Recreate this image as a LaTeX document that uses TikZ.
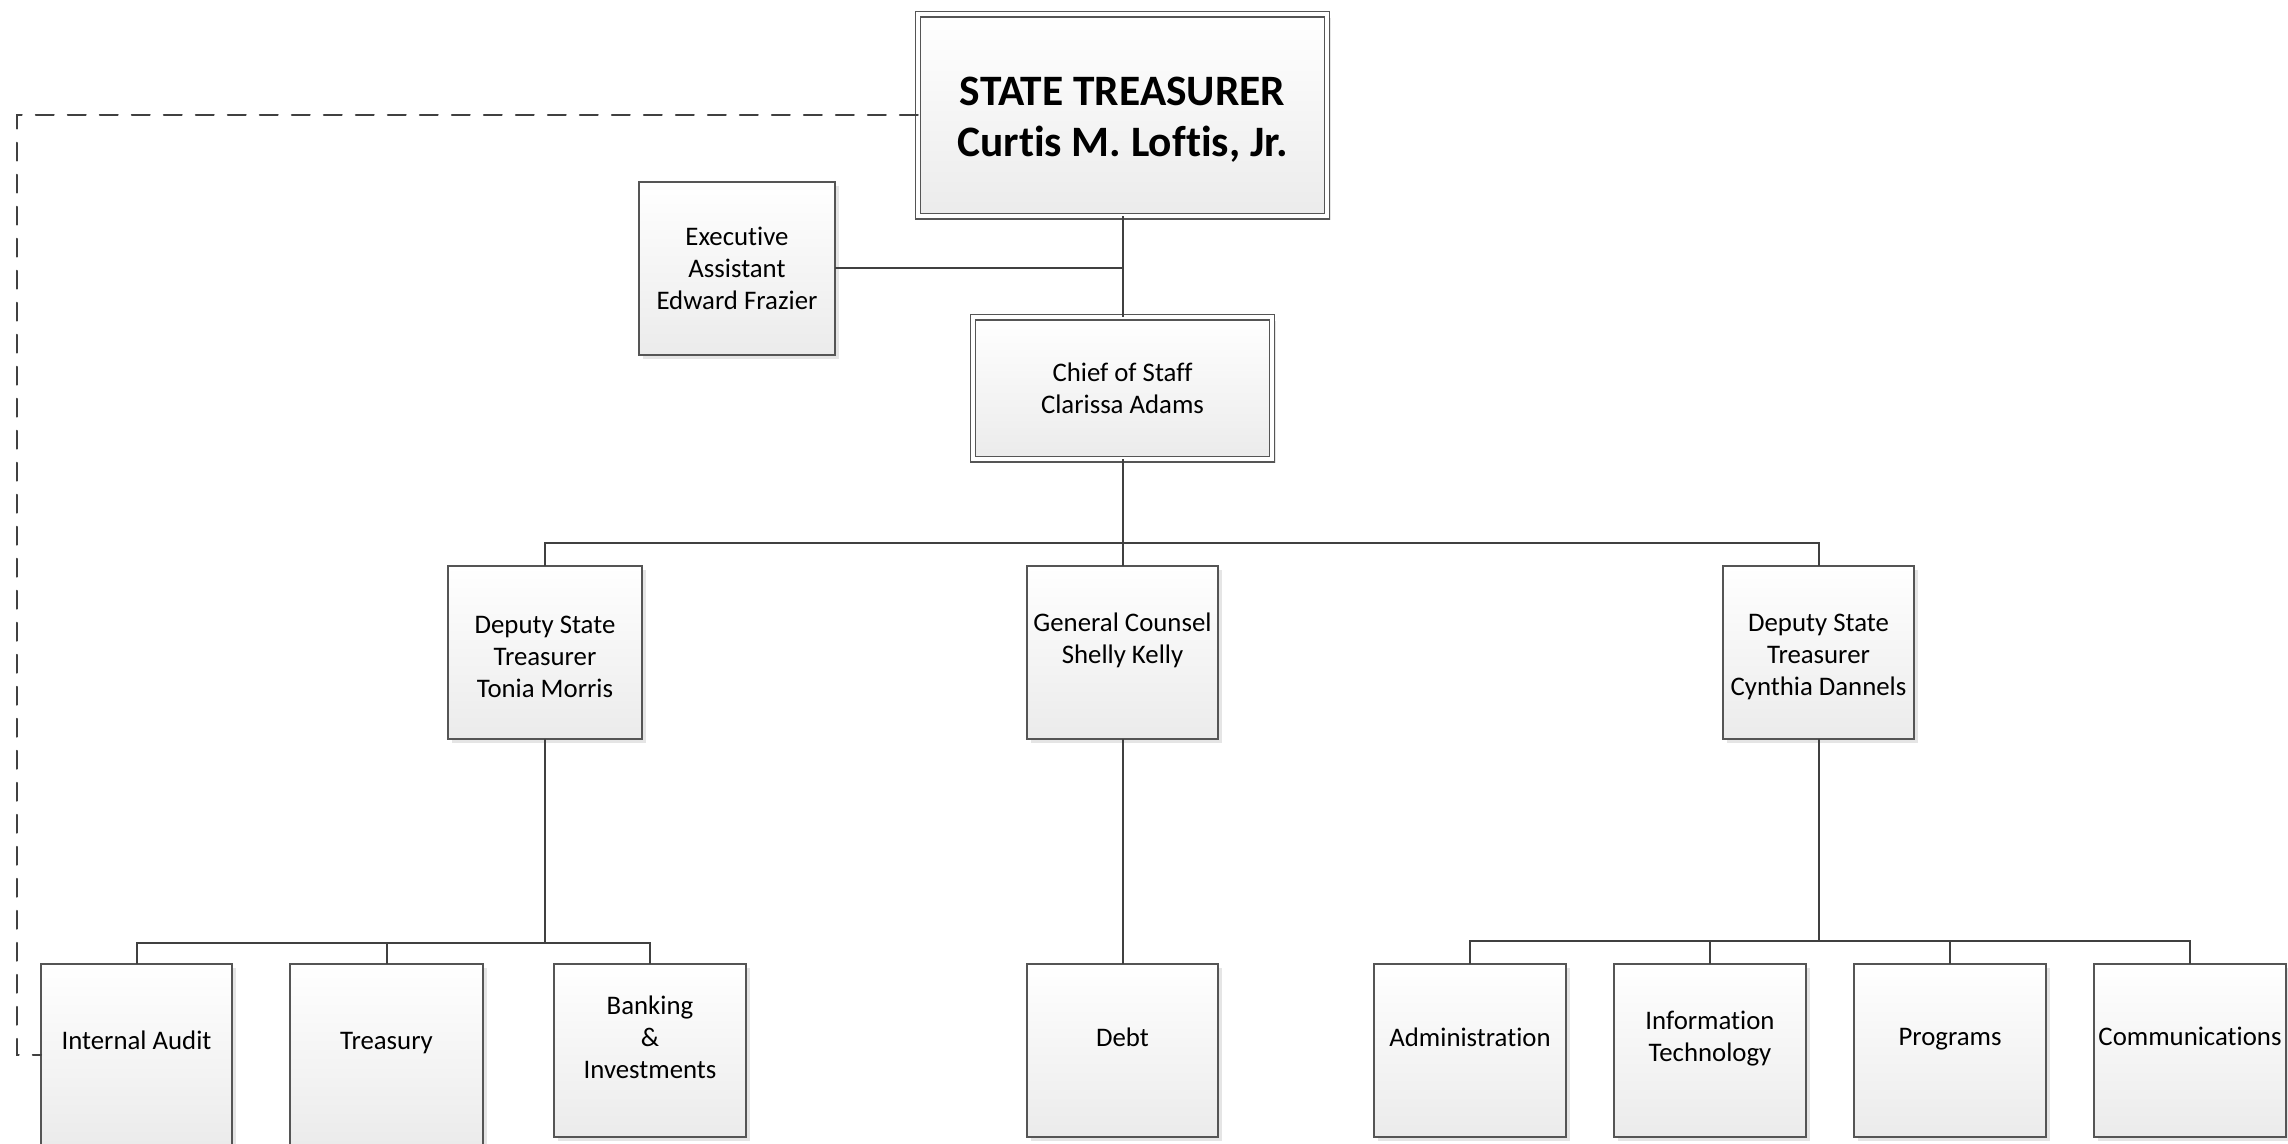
\documentclass[tikz,border=0pt]{standalone}
\usepackage{fontspec}
\setmainfont{Carlito}[Ligatures=NoCommon]
\usetikzlibrary{shadows,calc}
\definecolor{connc}{HTML}{404040}
\definecolor{bord}{HTML}{555555}
\definecolor{shadebot}{HTML}{EBEBEB}
\begin{document}
\begin{tikzpicture}[x=0.5pt,y=-0.5pt,
  box/.style={draw=bord, line width=0.6pt, top color=white, bottom color=shadebot,
    drop shadow={shadow xshift=2pt, shadow yshift=-2pt, fill=black, opacity=0.1},
    inner sep=0pt, outer sep=0pt, align=center, text=black,
    font=\fontsize{13.4}{16}\selectfont},
  dbox/.style={box, double=white, double distance=2pt},
  txt/.style={inner sep=0pt, align=center, text=black, font=\fontsize{13.4}{16}\selectfont},
  link/.style={draw=connc, line width=1pt},
  dashlink/.style={draw=connc, line width=1pt, dash pattern=on 9pt off 7pt, line cap=round}
]
\useasboundingbox (0,0) rectangle (2288,1144);
\fill[white] (0,0) rectangle (2288,1144);
\clip (0,0) rectangle (2288,1144);

% top levels
\node[dbox, minimum width=204.75pt, minimum height=101pt] (top) at (1122.5,115.5) {};
\node[txt, font=\bfseries\fontsize{21.7}{25.5}\selectfont] (topt) at (1122.5,120)
  {STATE TREASURER\\Curtis M. Loftis, Jr.};
\node[box, minimum width=98pt, minimum height=86.5pt] (exec) at (737,268.5)
  {Executive\\Assistant\\Edward Frazier};
\node[dbox, minimum width=149.25pt, minimum height=71pt] (chief) at (1122.5,388.5)
  {Chief of Staff\\Clarissa Adams};

% second row
\node[box, minimum width=97pt, minimum height=86.5pt] (dep1) at (545,652.5) {};
\node[txt] (dep1t) at (545,656.8) {Deputy State\\Treasurer\\Tonia Morris};
\node[box, minimum width=95.5pt, minimum height=86.5pt] (gc) at (1122.5,652.5) {};
\node[txt] (gct) at (1122.5,640.7) {General Counsel\\Shelly Kelly};
\node[box, minimum width=95.5pt, minimum height=86.5pt] (dep2) at (1818.5,652.5) {};
\node[txt] (dep2t) at (1818.5,656.8) {Deputy State\\Treasurer\\Cynthia Dannels};

% third row
\node[box, minimum width=95.5pt, minimum height=90.5pt] (ia) at (136.5,1054.5) {};
\node[txt] (iat) at (136.5,1040.4) {Internal Audit};
\node[box, minimum width=96.5pt, minimum height=90.5pt] (tr) at (386.5,1054.5) {};
\node[txt] (trt) at (386.5,1043.4) {Treasury};
\node[box, minimum width=96pt, minimum height=86.5pt] (bk) at (650,1050.5) {};
\node[txt] (bkt) at (650,1037.5) {Banking\\\&\\Investments};
\node[box, minimum width=95.5pt, minimum height=86.5pt] (debt) at (1122.5,1050.5) {};
\node[txt] (debtt) at (1122.5,1037.5) {Debt};
\node[box, minimum width=96pt, minimum height=86.5pt] (admin) at (1470,1050.5) {};
\node[txt] (admint) at (1470,1037.5) {Administration};
\node[box, minimum width=96pt, minimum height=86.5pt] (it) at (1710,1050.5) {};
\node[txt] (itt) at (1710,1039) {Information\\Technology};
\node[box, minimum width=96pt, minimum height=86.5pt] (prog) at (1950,1050.5) {};
\node[txt] (progt) at (1950,1039) {Programs};
\node[box, minimum width=96pt, minimum height=86.5pt] (comms) at (2190,1050.5) {};
\node[txt] (commst) at (2190,1036.5) {Communications};

% connectors
\coordinate (b1) at (1122.5,543);
\coordinate (b2) at (545,943);
\coordinate (b3) at (1818.5,941);
\coordinate (dl) at (17,1055);

\draw[link] (top.south) -- (chief.north);
\draw[link] (exec.east) -- (exec.east -| top.south);
\draw[link] (chief.south) -- (gc.north);
\draw[link] (dep1.north) |- (b1) -| (dep2.north);

\draw[link] (dep1.south) -- (b2);
\draw[link] (ia.north) |- (b2) -| (bk.north);
\draw[link] (tr.north) -- (tr.north |- b2);

\draw[link] (gc.south) -- (debt.north);

\draw[link] (dep2.south) -- (b3);
\draw[link] (admin.north) |- (b3) -| (comms.north);
\draw[link] (it.north) -- (it.north |- b3);
\draw[link] (prog.north) -- (prog.north |- b3);

\draw[dashlink] (top.west) -| (dl) -- (dl -| ia.west);
\end{tikzpicture}
\end{document}
